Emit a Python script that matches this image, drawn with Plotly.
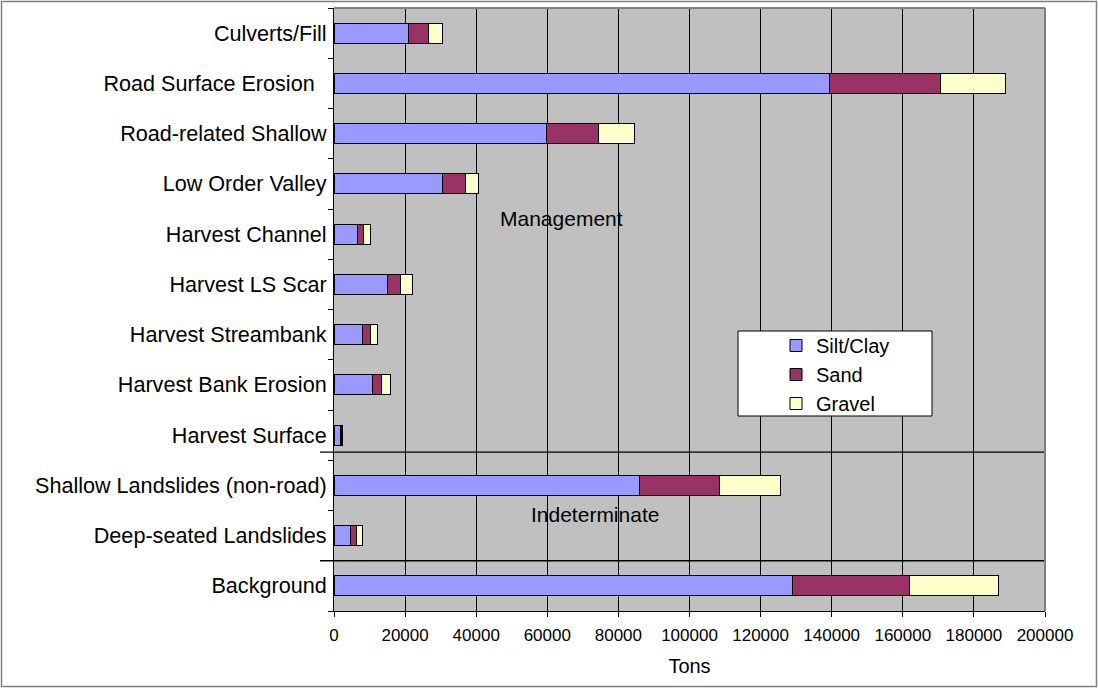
import plotly.graph_objects as go

# Sediment sources (top to bottom) and tonnage by grain-size class
categories = [
    "Culverts/Fill", "Road Surface Erosion", "Road-related Shallow", "Low Order Valley",
    "Harvest Channel", "Harvest LS Scar", "Harvest Streambank", "Harvest Bank Erosion",
    "Harvest Surface", "Shallow Landslides (non-road)", "Deep-seated Landslides", "Background",
]
tick_labels = [
    "Culverts/Fill", "Road Surface Erosion\u00a0\u00a0", "Road-related Shallow", "Low Order Valley",
    "Harvest Channel", "Harvest LS Scar", "Harvest Streambank", "Harvest Bank Erosion",
    "Harvest Surface", "Shallow Landslides (non-road)", "Deep-seated Landslides", "Background",
]
silt_clay = [21000, 139500, 59700, 30400, 6500, 15100, 8100, 10900, 1900, 86000, 4500, 129000]
sand = [5600, 31200, 14800, 6500, 1800, 3500, 2100, 2600, 300, 22500, 1800, 33000]
gravel = [3800, 18100, 9900, 3800, 2000, 3400, 1900, 2300, 300, 17100, 1600, 25000]
x_ticks = list(range(0, 200001, 20000))

series = [("Silt/Clay", silt_clay, "#9999FF"), ("Sand", sand, "#993366"), ("Gravel", gravel, "#FFFFCC")]

FONT = "Arial, 'Liberation Sans', sans-serif"
W, H = 1098, 688
L, R, T, B = 334, 1045, 8, 611  # plot-area edges in pixels


def px_x(p):
    return (p - L) / (R - L)


def px_y(p):
    return (B - p) / (B - T)


fig = go.Figure()
for name, vals, color in series:
    fig.add_trace(go.Bar(
        y=categories, x=vals, name=name, orientation="h",
        marker=dict(color=color, line=dict(color="black", width=1)),
        width=0.4,
    ))

shapes = [
    # group separators (Management / Indeterminate / Background)
    dict(type="line", xref="paper", yref="y", x0=px_x(320), x1=1, y0=8.34, y1=8.34,
         line=dict(color="black", width=1.3), layer="above"),
    dict(type="line", xref="paper", yref="y", x0=px_x(320), x1=1, y0=10.5, y1=10.5,
         line=dict(color="black", width=1.3), layer="above"),
    # plot-area frame on top and right
    dict(type="line", xref="paper", yref="paper", x0=0, x1=1, y0=1, y1=1,
         line=dict(color="#808080", width=2), layer="above"),
    dict(type="line", xref="paper", yref="paper", x0=1, x1=1, y0=0, y1=1,
         line=dict(color="#808080", width=2), layer="above"),
    # chart border
    dict(type="rect", xref="paper", yref="paper",
         x0=px_x(1.5), x1=px_x(W - 1.5), y0=px_y(H - 1.5), y1=px_y(1.5),
         line=dict(color="#808080", width=1.5), fillcolor="rgba(0,0,0,0)", layer="above"),
    # legend box
    dict(type="rect", xref="paper", yref="paper",
         x0=px_x(738), x1=px_x(932), y0=px_y(416), y1=px_y(331),
         line=dict(color="black", width=1), fillcolor="white", layer="above"),
]

annotations = [
    dict(text="Management", x=64000, xref="x", y=px_y(219), yref="paper",
         xanchor="center", yanchor="middle",
         showarrow=False, font=dict(size=21, color="black", family=FONT)),
    dict(text="Indeterminate", x=73500, xref="x", y=px_y(514), yref="paper",
         xanchor="center", yanchor="middle",
         showarrow=False, font=dict(size=21, color="black", family=FONT)),
]

fig.update_layout(
    width=W, height=H, autosize=False,
    margin=dict(l=L, r=W - R, t=T, b=H - B, pad=0),
    paper_bgcolor="white", plot_bgcolor="#C0C0C0",
    barmode="stack", bargap=0.6,
    font=dict(family=FONT, color="black"),
    showlegend=True,
    legend=dict(
        x=px_x(776), y=px_y(326), xanchor="left", yanchor="top",
        bgcolor="rgba(0,0,0,0)", borderwidth=0, traceorder="normal",
        font=dict(size=20, color="black", family=FONT),
    ),
    shapes=shapes,
    annotations=annotations,
    xaxis=dict(
        range=[0, 200000], tickvals=x_ticks, ticktext=[str(v) for v in x_ticks],
        showgrid=True, gridcolor="black", gridwidth=1, zeroline=False,
        showline=True, linecolor="black", linewidth=1,
        ticks="outside", ticklen=5, tickcolor="black", ticklabelstandoff=4,
        tickfont=dict(size=17, color="black", family=FONT),
        title=dict(text="Tons", font=dict(size=20, color="black", family=FONT), standoff=14),
        fixedrange=True,
    ),
    yaxis=dict(
        type="category", categoryorder="array", categoryarray=categories,
        tickvals=categories, ticktext=tick_labels,
        autorange="reversed", showgrid=False, zeroline=False,
        showline=True, linecolor="black", linewidth=1,
        ticks="outside", tickson="boundaries", ticklen=5, tickcolor="black",
        ticklabelstandoff=2,
        tickfont=dict(size=21.6, color="black", family=FONT),
        fixedrange=True,
    ),
)

fig.write_html("out.html")
